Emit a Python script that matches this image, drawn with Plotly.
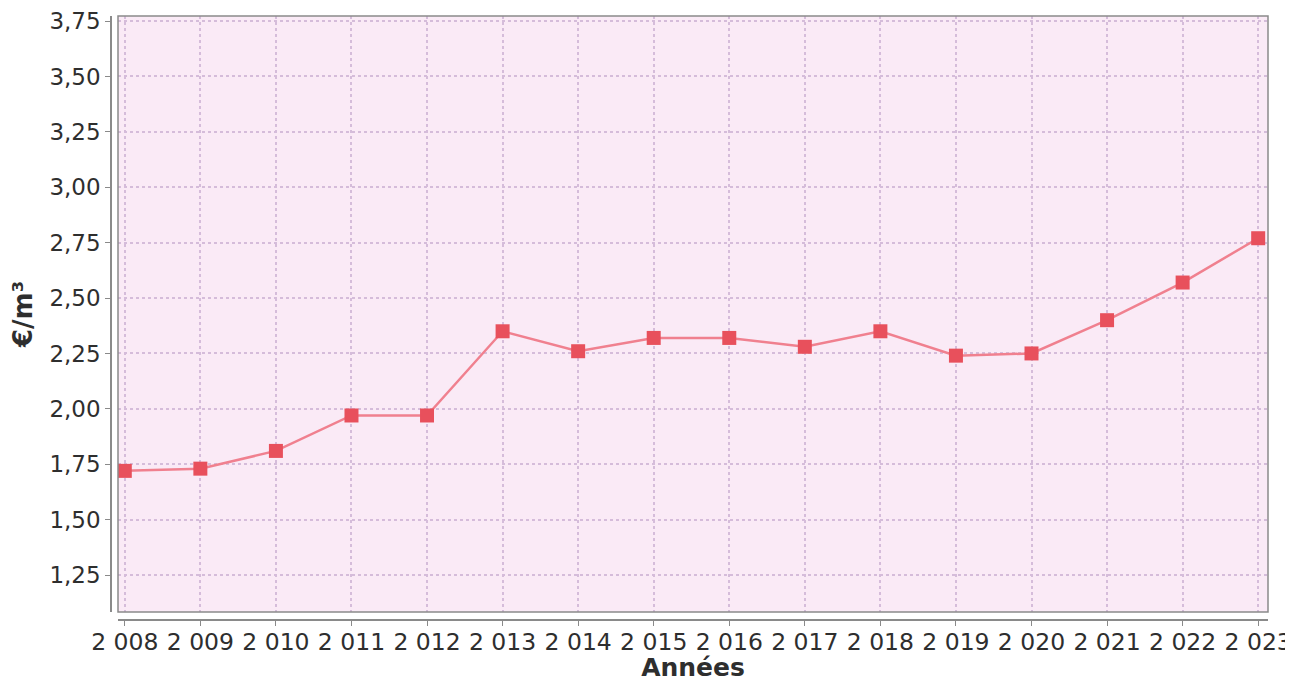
import plotly.graph_objects as go

years = [2008, 2009, 2010, 2011, 2012, 2013, 2014, 2015, 2016, 2017, 2018, 2019, 2020, 2021, 2022, 2023]
prix = [1.72, 1.73, 1.81, 1.97, 1.97, 2.35, 2.26, 2.32, 2.32, 2.28, 2.35, 2.24, 2.25, 2.40, 2.57, 2.77]
y_ticks = [1.25, 1.50, 1.75, 2.00, 2.25, 2.50, 2.75, 3.00, 3.25, 3.50, 3.75]

# page has an 8px body margin, so the figure is 8px smaller than the window
W, H = 1285, 674
L, R, T, B = 103, 25, 8, 62
xdom0 = 7 / (W - L - R)
ydom0 = 8 / (H - T - B)

grid_col = "#d5bcda"
font = "DejaVu Sans"
txt = "#2e2e2e"

fig = go.Figure()
fig.add_trace(go.Scatter(
    x=years, y=prix, mode="lines+markers",
    line=dict(color="#f0808f", width=2.5),
    marker=dict(symbol="square", size=14, color="#e8505c"),
    xaxis="x", yaxis="y",
))

fig.update_layout(
    width=W, height=H,
    margin=dict(l=L, r=R, t=T, b=B, autoexpand=False),
    paper_bgcolor="white",
    plot_bgcolor="#faeaf6",
    separators=", ",
    showlegend=False,
    font=dict(family=font, color=txt, size=23),
    xaxis=dict(
        domain=[xdom0, 1], anchor="free", position=0,
        range=[2007.91, 2023.13], automargin=False,
        tickmode="array", tickvals=years, tickformat=",d",
        showline=True, linecolor="#8a8a8a", linewidth=1.5,
        ticks="outside", ticklen=5, tickcolor="#8a8a8a",
        ticklabelstandoff=-4,
        showgrid=True, gridcolor=grid_col, griddash="dot", gridwidth=1.5,
        zeroline=False,
        tickfont=dict(size=23.5, color=txt),
        title=dict(text="<b>Années</b>", font=dict(size=25, color=txt), standoff=13),
    ),
    yaxis=dict(
        domain=[ydom0, 1], anchor="free", position=0,
        range=[1.083, 3.773], automargin=False,
        tickmode="array", tickvals=y_ticks, tickformat=".2f",
        showline=True, linecolor="#8a8a8a", linewidth=1.5,
        ticks="outside", ticklen=5, tickcolor="#8a8a8a",
        showgrid=True, gridcolor=grid_col, griddash="dot", gridwidth=1.5,
        zeroline=False,
        tickfont=dict(size=23, color=txt),
        title=dict(text="<b>€/m³</b>", font=dict(size=26, color=txt), standoff=12),
    ),
)

fig.add_shape(type="rect", xref="paper", yref="paper",
              x0=xdom0, x1=1, y0=ydom0, y1=1,
              line=dict(color="#8a8a8a", width=1.5), fillcolor="rgba(0,0,0,0)", layer="above")

fig.write_html("out.html")
